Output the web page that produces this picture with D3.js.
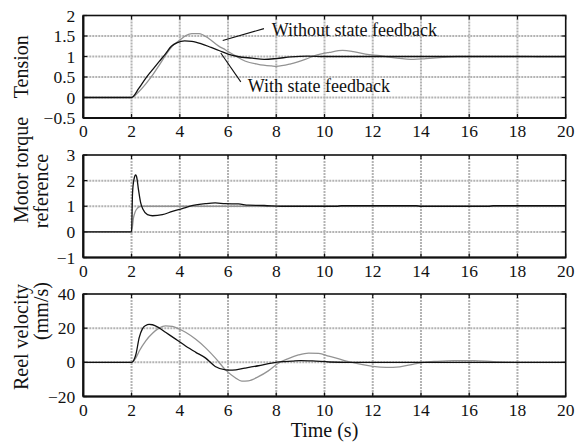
<!DOCTYPE html>
<html>
<head>
<meta charset="utf-8">
<script src="https://cdn.jsdelivr.net/npm/d3@7"></script>
<style>
  body { margin: 0; background: #fff; }
  svg { display: block; font-family: "Liberation Serif", "Times New Roman", serif; }
</style>
</head>
<body>
<svg id="chart" width="587" height="448"></svg>
<script>
// ---------- data ----------
var timeTicks = [0, 2, 4, 6, 8, 10, 12, 14, 16, 18, 20];

var tensionTicks = [-0.5, 0, 0.5, 1, 1.5, 2];
var torqueTicks = [-1, 0, 1, 2, 3];
var velocityTicks = [-20, 0, 20, 40];

// tension, with state feedback (black)
var tensionWithT = [0, 2, 2.3, 2.6, 2.9, 3.15, 3.4, 3.65, 3.9, 4.2, 4.5, 4.9, 5.3, 5.65, 6.0, 6.4, 7.0, 7.5, 8.0, 8.6, 9.3, 10, 20];
var tensionWith  = [0, 0, 0.22, 0.48, 0.70, 0.88, 1.06, 1.25, 1.34, 1.38, 1.37, 1.31, 1.22, 1.14, 1.06, 1.0, 0.96, 0.93, 0.95, 0.99, 1.01, 1.0, 1.0];

// tension, without state feedback (gray)
var tensionWithoutT = [0, 2, 2.3, 2.6, 2.9, 3.15, 3.4, 3.7, 4.0, 4.25, 4.5, 4.8, 5.2, 5.6, 5.9, 6.3, 6.7, 7.25, 7.8, 8.0, 8.6, 9.2, 9.6, 10.2, 10.75, 11.2, 11.7, 12.3, 13.0, 13.7, 14.2, 14.9, 15.5, 18.3, 19, 20];
var tensionWithout  = [0, 0, 0.14, 0.34, 0.57, 0.79, 1.02, 1.26, 1.40, 1.51, 1.56, 1.56, 1.44, 1.26, 1.16, 1.02, 0.89, 0.81, 0.77, 0.76, 0.82, 0.93, 1.02, 1.1, 1.15, 1.12, 1.06, 1.02, 0.96, 0.93, 0.95, 0.98, 1.0, 1.0, 0.99, 0.99];

// motor torque reference
var torqueWithT = [0, 2.0, 2.04, 2.1, 2.17, 2.21, 2.29, 2.38, 2.48, 2.66, 2.87, 3.28, 3.69, 4.1, 4.5, 5.06, 5.47, 5.88, 6.43, 6.85, 7.5, 8.2, 10.5, 10.7, 13.8, 14, 16.8, 17, 20];
var torqueWith  = [0, 0, 1.5, 2.05, 2.22, 2.15, 1.63, 1.13, 0.87, 0.67, 0.63, 0.67, 0.8, 0.91, 1.02, 1.1, 1.13, 1.1, 1.09, 1.04, 1.03, 1.0, 1.0, 1.02, 1.02, 1.0, 1.0, 1.02, 1.02];
var torqueWithoutT = [0, 2.0, 2.08, 2.15, 2.25, 2.38, 20];
var torqueWithout  = [0, 0, 0.55, 0.78, 0.93, 1.0, 1.0];

// reel velocity (mm/s)
var velocityWithT = [0, 2, 2.18, 2.32, 2.45, 2.59, 2.73, 2.87, 3.14, 3.41, 3.83, 4.24, 4.65, 5.06, 5.47, 5.9, 6.18, 6.7, 7.26, 7.81, 8.24, 8.65, 9.0, 9.5, 10.2, 11, 20];
var velocityWith  = [0, 0, 4.6, 14.6, 19.6, 21.6, 22.2, 22, 20.2, 17.6, 13.6, 9.6, 6, 2.6, -2.4, -4.4, -4.6, -3.4, -2, -0.4, 0.4, 0.7, 1, 0.8, 0.2, 0, 0];
var velocityWithoutT = [0, 2, 2.18, 2.32, 2.59, 2.87, 3.14, 3.41, 3.69, 3.96, 4.24, 4.65, 5.06, 5.47, 5.9, 6.3, 6.57, 6.84, 7.26, 7.67, 8.1, 8.5, 8.92, 9.34, 9.76, 10.18, 10.6, 11.0, 11.58, 12.0, 12.56, 13.12, 13.7, 14.1, 14.66, 15.36, 16.2, 17.0, 17.87, 20];
var velocityWithout  = [0, 0, 2.6, 6.6, 12.6, 17, 20, 21.4, 21, 19.6, 17.6, 13.6, 8.6, 2.6, -4.4, -9, -11, -10.8, -8.4, -5, -0.4, 2.2, 4.3, 5.4, 5.2, 3.6, 2, 0.4, -1.4, -2.4, -3, -2.6, -1, 0, 0.6, 1, 1, 0.4, 0, 0];

// labels on the tension panel: leader line from (t1,v1) to (t2,v2), text at (tx,vy)
var annotations = [
  { text: "Without state feedback", t1: 5.78, v1: 1.39, t2: 7.49, v2: 1.68, tx: 7.81, vy: 1.49 },
  { text: "With state feedback",    t1: 5.70, v1: 1.085, t2: 6.53, v2: 0.38, tx: 6.82, vy: 0.14 }
];

// ---------- layout ----------
var svg = d3.select("#chart");
var left = 83.3, right = 565.7, panel_h = 102.5;
var black = "#111", gray = "#939393";

var x = d3.scaleLinear().domain([0, 20]).range([left, right]);

var panels = [
  { top: 15.5,  domain: [-0.5, 2], ticks: tensionTicks, label: ["Tension"],
    series: [ { t: tensionWithoutT, v: tensionWithout, color: gray }, { t: tensionWithT, v: tensionWith, color: black } ] },
  { top: 155,   domain: [-1, 3], ticks: torqueTicks, label: ["Motor torque", "reference"], labelY: [170, 191],
    series: [ { t: torqueWithoutT, v: torqueWithout, color: gray }, { t: torqueWithT, v: torqueWith, color: black } ] },
  { top: 294,   domain: [-20, 40], ticks: velocityTicks, label: ["Reel velocity", "(mm/s)"], labelY: [337, 311],
    series: [ { t: velocityWithoutT, v: velocityWithout, color: gray }, { t: velocityWithT, v: velocityWith, color: black } ] }
];

panels.forEach(function(p, pi){
  var y = d3.scaleLinear().domain(p.domain).range([p.top + panel_h, p.top]);
  var g = svg.append("g");

  // grid
  timeTicks.slice(1, -1).forEach(function(t){
    g.append("line").attr("x1", x(t)).attr("x2", x(t)).attr("y1", p.top).attr("y2", p.top + panel_h)
      .style("stroke", "#b3b3b3").style("stroke-width", 2).style("stroke-dasharray", "2,1");
  });
  p.ticks.slice(1, -1).forEach(function(v){
    g.append("line").attr("x1", left).attr("x2", right).attr("y1", y(v)).attr("y2", y(v))
      .style("stroke", "#b3b3b3").style("stroke-width", 2).style("stroke-dasharray", "2,1");
  });

  // inner ticks on all four sides
  timeTicks.forEach(function(t){
    g.append("line").attr("x1", x(t)).attr("x2", x(t)).attr("y1", p.top).attr("y2", p.top + 4).style("stroke", black).style("stroke-width", 1.2);
    g.append("line").attr("x1", x(t)).attr("x2", x(t)).attr("y1", p.top + panel_h).attr("y2", p.top + panel_h - 4).style("stroke", black).style("stroke-width", 1.2);
  });
  p.ticks.forEach(function(v){
    g.append("line").attr("x1", left).attr("x2", left + 4).attr("y1", y(v)).attr("y2", y(v)).style("stroke", black).style("stroke-width", 1.2);
    g.append("line").attr("x1", right).attr("x2", right - 4).attr("y1", y(v)).attr("y2", y(v)).style("stroke", black).style("stroke-width", 1.2);
  });

  // curves
  var line = d3.line().curve(d3.curveMonotoneX);
  p.series.forEach(function(s){
    var pts = s.t.map(function(t, i){ return [x(t), y(s.v[i])]; });
    g.append("path").attr("d", line(pts))
      .style("fill", "none").style("stroke", s.color).style("stroke-width", 1.3).style("stroke-linejoin", "round");
  });

  // frame
  g.append("rect").attr("x", left).attr("y", p.top).attr("width", right - left).attr("height", panel_h)
    .style("fill", "none").style("stroke", black).style("stroke-width", 1.6);
  g.append("line").attr("x1", left).attr("x2", right).attr("y1", p.top + panel_h).attr("y2", p.top + panel_h)
    .style("stroke", black).style("stroke-width", 2.2);
  g.append("line").attr("x1", left).attr("x2", left).attr("y1", p.top).attr("y2", p.top + panel_h)
    .style("stroke", black).style("stroke-width", 2.2);

  // tick labels
  var fmt = d3.format("");
  p.ticks.forEach(function(v){
    g.append("text").attr("x", left - 8).attr("y", y(v)).attr("dy", "0.35em")
      .attr("text-anchor", "end").style("font-size", "17.5px").style("fill", black).text(fmt(v));
  });
  timeTicks.forEach(function(t){
    g.append("text").attr("x", x(t)).attr("y", p.top + panel_h + 19)
      .attr("text-anchor", "middle").style("font-size", "17.5px").style("fill", black).text(t);
  });

  // axis label (rotated)
  p.label.forEach(function(txt, li){
    var cy = p.labelY ? p.labelY[li] : p.top + panel_h / 2;
    var bx = li == 0 ? 28 : 48;
    g.append("text").attr("transform", "translate(" + bx + "," + cy + ") rotate(-90)")
      .attr("text-anchor", "middle").style("font-size", "20px").style("fill", black).text(txt);
  });

  // annotations on first panel
  if(pi == 0){
    annotations.forEach(function(a){
      g.append("line").attr("x1", x(a.t1)).attr("y1", y(a.v1)).attr("x2", x(a.t2)).attr("y2", y(a.v2))
        .style("stroke", black).style("stroke-width", 1.1);
      g.append("text").attr("x", x(a.tx)).attr("y", y(a.vy))
        .style("font-size", "18px").style("fill", black).text(a.text);
    });
  }
});

svg.append("text").attr("x", (left + right) / 2).attr("y", 437)
  .attr("text-anchor", "middle").style("font-size", "20px").style("fill", black).text("Time (s)");
</script>
</body>
</html>
